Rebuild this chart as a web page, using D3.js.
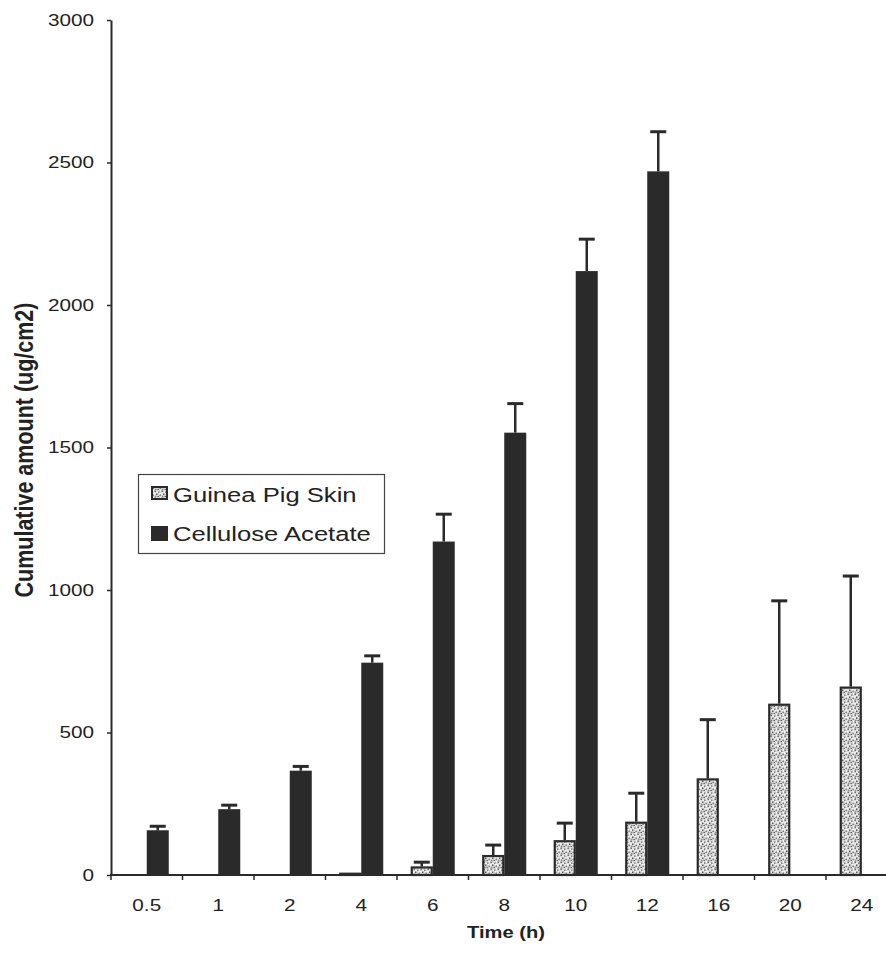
<!DOCTYPE html>
<html>
<head>
<meta charset="utf-8">
<script src="https://cdn.jsdelivr.net/npm/d3@7"></script>
<style>
  html, body { margin: 0; padding: 0; background: #fff; }
  svg { display: block; }
  text { font-family: "Liberation Sans", Arial, sans-serif; fill: #222; }
</style>
</head>
<body>
<script>
// ---- data ----
const categories = ["0.5", "1", "2", "4", "6", "8", "10", "12", "16", "20", "24"];
const guineaPig = [0, 0, 0, 8, 30, 70, 122, 187, 339, 601, 661];
const guineaPigErr = [0, 0, 0, 0, 15, 35, 60, 100, 206, 361, 388];
const cellulose = [157, 231, 366, 745, 1170, 1552, 2119, 2469, null, null, null];
const celluloseErr = [14, 14, 15, 24, 96, 102, 112, 139, null, null, null];
const yTicks = [0, 500, 1000, 1500, 2000, 2500, 3000];
const seriesNames = ["Guinea Pig Skin", "Cellulose Acetate"];

// ---- layout ----
const W = 886, H = 955;
const SX = 1.22; // horizontal stretch of the original text
const dark = "#2a2a2a";

const svg = d3.select("body").append("svg").attr("width", W).attr("height", H);
svg.append("rect").attr("width", W).attr("height", H).attr("fill", "#fff");

const defs = svg.append("defs");
const pat = defs.append("pattern").attr("id", "speck")
  .attr("patternUnits", "userSpaceOnUse").attr("width", 7).attr("height", 7);
pat.append("rect").attr("width", 7).attr("height", 7).attr("fill", "#d8d8d8");
[[0.5,0.5,"#555"],[4,1.5,"#777"],[2,3.5,"#444"],[5.5,4.5,"#666"],[1,5.8,"#888"],[3.5,6,"#555"],[6,0.3,"#fff"],[2.5,1.8,"#fff"],[5,3,"#fff"],[0.2,3.2,"#fff"]].forEach(([px,py,c]) =>
  pat.append("rect").attr("x", px).attr("y", py).attr("width", 1.4).attr("height", 1.4).attr("fill", c));

const x = d3.scaleBand().domain(categories).range([111, 897.5]).paddingInner(0).paddingOuter(0);
const xs = d3.scaleBand().domain(["g", "c"]).range([0, x.bandwidth()]).paddingInner(0).paddingOuter(0.625);
const y = d3.scaleLinear().domain([0, 3000]).range([875, 20]);

function stretchedText(parent, str, tx, ty, opts = {}) {
  const g = parent.append("g").attr("transform", `translate(${tx},${ty})${opts.rotate ? " rotate(" + opts.rotate + ")" : ""}`);
  const t = g.append("text")
    .attr("transform", opts.rotate ? `scale(1,${SX})` : `scale(${SX},1)`)
    .attr("text-anchor", opts.anchor || "start")
    .style("font-size", (opts.size || 17) + "px")
    .style("font-weight", opts.bold ? "bold" : "normal")
    .text(str);
  if (opts.dy) t.attr("dy", opts.dy);
  return t;
}

// ---- bars ----
const gBars = svg.append("g");
const data = categories.map((c, i) => ({ c, g: guineaPig[i], ge: guineaPigErr[i], v: cellulose[i], ve: celluloseErr[i] }));

function errBar(cx, v, e) {
  if (!e) return;
  gBars.append("line").attr("x1", cx).attr("x2", cx).attr("y1", y(v)).attr("y2", y(v + e))
    .attr("stroke", dark).attr("stroke-width", 2.5);
  gBars.append("line").attr("x1", cx - 8).attr("x2", cx + 8).attr("y1", y(v + e)).attr("y2", y(v + e))
    .attr("stroke", dark).attr("stroke-width", 3);
}

data.forEach(d => {
  if (d.g > 0) {
    const bx = x(d.c) + xs("g");
    gBars.append("rect").attr("x", bx + 1).attr("y", y(d.g) + 1)
      .attr("width", xs.bandwidth() - 2).attr("height", Math.max(0, y(0) - y(d.g) - 1))
      .attr("fill", "url(#speck)").attr("stroke", dark).attr("stroke-width", 2.2);
    errBar(bx + xs.bandwidth() / 2, d.g, d.ge);
  }
  if (d.v != null) {
    const bx = x(d.c) + xs("c");
    gBars.append("rect").attr("x", bx).attr("y", y(d.v))
      .attr("width", xs.bandwidth()).attr("height", y(0) - y(d.v))
      .attr("fill", dark);
    errBar(bx + xs.bandwidth() / 2, d.v, d.ve);
  }
});

// ---- y axis ----
const yAxis = svg.append("g").attr("transform", "translate(111,0)")
  .call(d3.axisLeft(y).tickValues(yTicks).tickFormat(d3.format("d")).tickSize(4).tickSizeOuter(0).tickPadding(13));
yAxis.select(".domain").attr("stroke", dark).attr("stroke-width", 2);
yAxis.selectAll(".tick line").attr("stroke", dark).attr("stroke-width", 1.5);
yAxis.selectAll(".tick text")
  .attr("transform", `scale(${SX},1)`)
  .attr("x", -17 / SX)
  .style("font-size", "17px")
  .style("font-family", '"Liberation Sans", Arial, sans-serif')
  .attr("fill", "#222");

// ---- x axis ----
const xAxis = svg.append("g");
xAxis.append("line").attr("x1", 110).attr("x2", 897.5).attr("y1", y(0)).attr("y2", y(0))
  .attr("stroke", dark).attr("stroke-width", 2);
categories.map(c => x(c)).concat([x.range()[1]]).forEach(tx => {
  xAxis.append("line").attr("x1", tx).attr("x2", tx).attr("y1", y(0)).attr("y2", y(0) + 5)
    .attr("stroke", dark).attr("stroke-width", 1.5);
});
categories.forEach(c => {
  stretchedText(xAxis, c, x(c) + x.bandwidth() / 2, 911, { anchor: "middle", size: 17 });
});

// ---- axis titles ----
stretchedText(svg, "Time (h)", 506, 938, { anchor: "middle", size: 16.5, bold: true });
stretchedText(svg, "Cumulative amount (ug/cm2)", 24, 450, { anchor: "middle", size: 21.5, bold: true, rotate: -90, dy: "0.36em" });

// ---- legend ----
const lg = svg.append("g");
lg.append("rect").attr("x", 138.5).attr("y", 474.5).attr("width", 246).attr("height", 79)
  .attr("fill", "#fff").attr("stroke", "#444").attr("stroke-width", 1.2);
lg.append("rect").attr("x", 152).attr("y", 487).attr("width", 15).attr("height", 12)
  .attr("fill", "url(#speck)").attr("stroke", dark).attr("stroke-width", 2);
lg.append("rect").attr("x", 151).attr("y", 526).attr("width", 17).attr("height", 15)
  .attr("fill", dark);
stretchedText(lg, seriesNames[0], 173, 502, { size: 21 });
stretchedText(lg, seriesNames[1], 173, 541, { size: 21 });
</script>
</body>
</html>
